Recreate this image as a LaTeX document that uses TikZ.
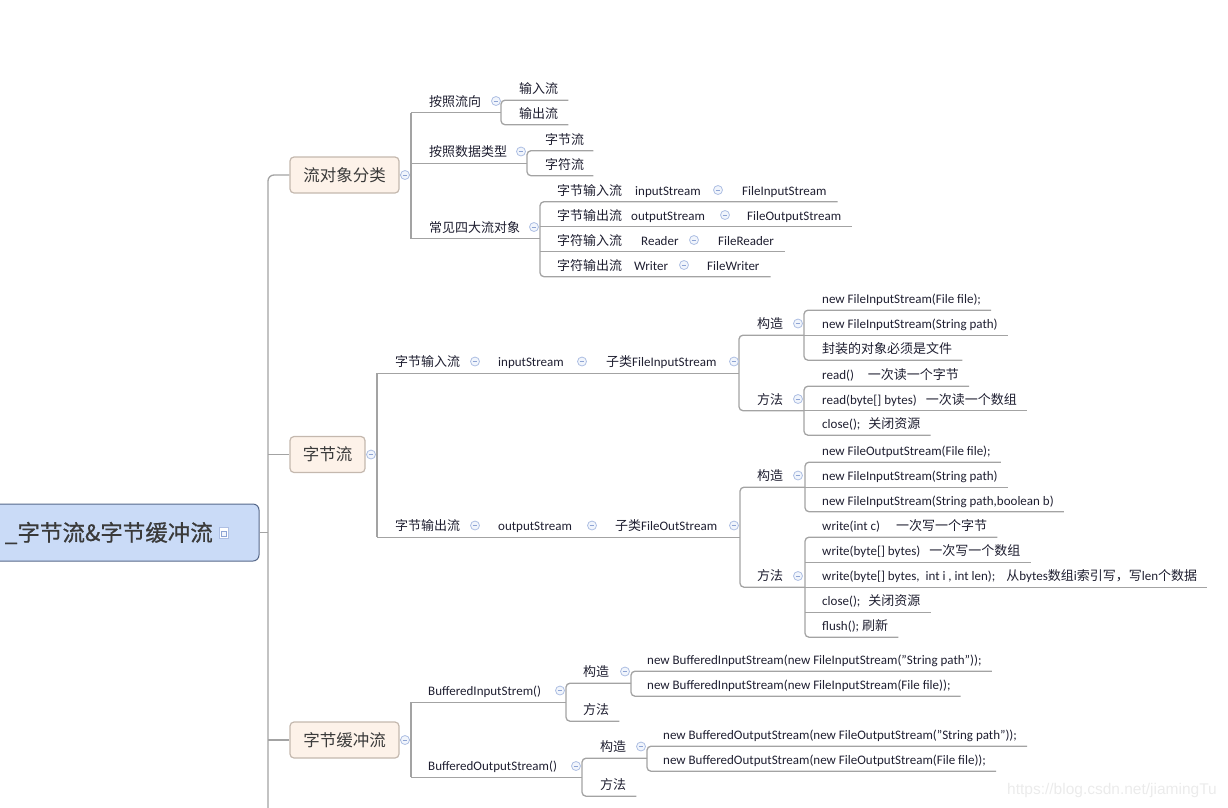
\documentclass[tikz,border=0pt]{standalone}
\usepackage{fontspec}
\setmainfont{Carlito}
\newfontfamily\cjk{Noto Sans CJK SC}
\newfontfamily\cjkroot{Noto Sans CJK SC}[FakeBold=0.6]
\newfontfamily\wmfont{Liberation Sans}
\newcommand\zh[1]{{\cjk #1}}
\definecolor{lc}{HTML}{A3A3A3}
\definecolor{txt}{HTML}{1E1E30}
\definecolor{lonef}{HTML}{FDF2E9}
\definecolor{loned}{HTML}{C4B8AE}
\definecolor{rootf}{HTML}{CADBF7}
\definecolor{rootd}{HTML}{56688A}
\definecolor{rootc}{HTML}{3A3A3A}
\definecolor{cbd}{HTML}{AEBFE3}
\definecolor{cbf}{HTML}{F1F5FC}
\definecolor{cbm}{HTML}{8EA4D4}
\definecolor{wmc}{HTML}{EBEBEB}
\begin{document}
\begin{tikzpicture}[x=1pt,y=-1pt,
  ln/.style={draw=lc, line width=1.3pt},
  br/.style={draw=lc, line width=1.3pt, rounded corners=4pt},
  t/.style={anchor=west, inner sep=0pt, minimum height=23pt, text height=11pt, text depth=1pt, font=\fontsize{13}{15}\selectfont, text=txt},
  lone/.style={draw=loned, fill=lonef, line width=1.2pt, rounded corners=4pt, inner sep=0pt, minimum height=36pt, font=\cjk\fontsize{16.5}{18}\selectfont, text=rootc},
  cb/.style={circle, draw=cbd, fill=cbf, line width=0.8pt, minimum size=9pt, inner sep=0pt,
    path picture={\draw[cbm, line width=0.9pt] ([xshift=-2.4pt]path picture bounding box.center) -- ([xshift=2.4pt]path picture bounding box.center);}}
]
\useasboundingbox (0,0) rectangle (1228,807);
\clip (0,0) rectangle (1228,807);

% ---------- coordinates for trunks / brackets
\coordinate (T) at (268,0);
\coordinate (V1) at (411,0);
\coordinate (k11) at (501,0);
\coordinate (k12) at (527,0);
\coordinate (k13) at (540,0);
\coordinate (V2) at (377,0);
\coordinate (k21) at (739,0);
\coordinate (k22) at (804,0);
\coordinate (k24) at (740,0);
\coordinate (k25) at (805,0);
\coordinate (V3) at (411,0);
\coordinate (k31) at (566,0);
\coordinate (k32) at (631,0);
\coordinate (k33) at (582,0);
\coordinate (k34) at (647,0);

% ---------- root
\node[draw=rootd, fill=rootf, line width=1pt, rounded corners=6pt, minimum width=290pt, minimum height=57pt, inner sep=0pt] (R) at (114,532.5) {};
\node[anchor=east, inner sep=0pt, font=\cjkroot\fontsize{22.5}{24}\selectfont, text=rootc] (RT) at (213,533) {\_字节流\&字节缓冲流};
\node[draw=cbd, fill=white, line width=0.7pt, minimum width=9pt, minimum height=11pt, inner sep=0pt] (RI) at (224,533) {};
\node[draw=cbm, fill=cbf, line width=0.5pt, minimum width=5pt, minimum height=5pt, inner sep=0pt] (RI2) at (224,534) {};

% ---------- level 1 boxes
\node[lone, minimum width=109pt] (A) at (344.5,175) {流对象分类};
\node[lone, minimum width=75pt] (B) at (327.5,454.5) {字节流};
\node[lone, minimum width=109pt] (C) at (344.5,740) {字节缓冲流};

\draw[ln] (R.east) -- (R.east -| T);
\draw[ln, rounded corners=6pt] (268,815) -- (A.west -| T) -- (A.west);
\draw[ln] (B.west -| T) -- (B.west);
\draw[ln] (C.west -| T) -- (C.west);

% ========== section 1
\node[t] (n11) at (429,101) {\zh{按照流向}};
\node[t] (n12) at (429,151.5) {\zh{按照数据类型}};
\node[t] (n13) at (429,227) {\zh{常见四大流对象}};
\draw[ln] (A.east) -- (A.east -| V1);
\draw[ln] (n11.south -| V1) -- (n13.south -| V1);
\draw[ln] (n11.south -| V1) -- (n11.south -| k11);
\draw[ln] (n12.south -| V1) -- (n12.south -| k12);
\draw[ln] (n13.south -| V1) -- (n13.south -| k13);

\node[t] (n111) at (519,88.5) {\zh{输入流}};
\node[t] (n112) at (519,113) {\zh{输出流}};
\draw[br] ([xshift=10pt]n111.south east) -- (n111.south -| k11) -- (n112.south -| k11) -- ([xshift=10pt]n112.south east);

\node[t] (n121) at (545,139) {\zh{字节流}};
\node[t] (n122) at (545,164) {\zh{字符流}};
\draw[br] ([xshift=9pt]n121.south east) -- (n121.south -| k12) -- (n122.south -| k12) -- ([xshift=9pt]n122.south east);

\node[t] (r1a) at (557,190) {\zh{字节输入流}};
\node[t] (r1b) at (635,190) {inputStream};
\node[t] (r1c) at (742,190) {FileInputStream};
\node[t] (r2a) at (557,215) {\zh{字节输出流}};
\node[t] (r2b) at (631,215) {outputStream};
\node[t] (r2c) at (747,215) {FileOutputStream};
\node[t] (r3a) at (557,240) {\zh{字符输入流}};
\node[t] (r3b) at (641,240) {Reader};
\node[t] (r3c) at (718,240) {FileReader};
\node[t] (r4a) at (557,265) {\zh{字符输出流}};
\node[t] (r4b) at (634,265) {Writer};
\node[t] (r4c) at (707,265) {FileWriter};
\draw[br] ([xshift=11pt]r1c.south east) -- (r1a.south -| k13) -- (r4a.south -| k13) -- ([xshift=11pt]r4c.south east);
\draw[ln] (r2a.south -| k13) -- ([xshift=11pt]r2c.south east);
\draw[ln] (r3a.south -| k13) -- ([xshift=11pt]r3c.south east);

\node[cb] (cA) at (405,175) {};
\node[cb] (c11) at (496,101) {};
\node[cb] (c12) at (521,151.5) {};
\node[cb] (c13) at (534,227) {};
\node[cb] (cr1) at (718,190) {};
\node[cb] (cr2) at (725,215) {};
\node[cb] (cr3) at (694,240) {};
\node[cb] (cr4) at (684,265) {};

% ========== section 2
\draw[ln] (B.east) -- (B.east -| V2);
\node[t] (s1a) at (395,361.5) {\zh{字节输入流}};
\node[t] (s1b) at (498,361.5) {inputStream};
\node[t] (s1c) at (606,361.5) {\zh{子类}FileInputStream};
\node[t] (s2a) at (395,525.5) {\zh{字节输出流}};
\node[t] (s2b) at (498,525.5) {outputStream};
\node[t] (s2c) at (615,525.5) {\zh{子类}FileOutStream};
\draw[ln] (s1a.south -| V2) -- (s2a.south -| V2);
\draw[ln] (s1a.south -| V2) -- (s1a.south -| k21);
\draw[ln] (s2a.south -| V2) -- (s2a.south -| k24);

\node[t] (g1) at (757,323.5) {\zh{构造}};
\node[t] (m1) at (757,399) {\zh{方法}};
\draw[br] (g1.south -| k22) -- (g1.south -| k21) -- (m1.south -| k21) -- (m1.south -| k22);

\node[t] (a1) at (822,298.5) {new FileInputStream(File file);};
\node[t] (a2) at (822,323.5) {new FileInputStream(String path)};
\node[t] (a3) at (822,348.5) {\zh{封装的对象必须是文件}};
\draw[br] ([xshift=10pt]a1.south east) -- (a1.south -| k22) -- (a3.south -| k22) -- ([xshift=10pt]a3.south east);
\draw[ln] (a2.south -| k22) -- ([xshift=10pt]a2.south east);

\node[t] (b1) at (822,374.5) {read()\hspace{14pt}\zh{一次读一个字节}};
\node[t] (b2) at (822,399) {read(byte[] bytes)\hspace{9pt}\zh{一次读一个数组}};
\node[t] (b3) at (822,423.5) {close();\hspace{8pt}\zh{关闭资源}};
\draw[br] ([xshift=10pt]b1.south east) -- (b1.south -| k22) -- (b3.south -| k22) -- ([xshift=10pt]b3.south east);
\draw[ln] (b2.south -| k22) -- ([xshift=10pt]b2.south east);

\node[t] (g2) at (757,475.5) {\zh{构造}};
\node[t] (m2) at (757,575.5) {\zh{方法}};
\draw[br] (g2.south -| k25) -- (g2.south -| k24) -- (m2.south -| k24) -- (m2.south -| k25);

\node[t] (c1) at (822,450.5) {new FileOutputStream(File file);};
\node[t] (c2) at (822,475.5) {new FileInputStream(String path)};
\node[t] (c3) at (822,500) {new FileInputStream(String path,boolean b)};
\draw[br] ([xshift=10pt]c1.south east) -- (c1.south -| k25) -- (c3.south -| k25) -- ([xshift=10pt]c3.south east);
\draw[ln] (c2.south -| k25) -- ([xshift=10pt]c2.south east);

\node[t] (d1) at (822,525.5) {write(int c)\hspace{16pt}\zh{一次写一个字节}};
\node[t] (d2) at (822,550.5) {write(byte[] bytes)\hspace{9pt}\zh{一次写一个数组}};
\node[t] (d3) at (822,575.5) {write(byte[] bytes,\ \ int i , int len);\hspace{11pt}\zh{从}bytes\zh{数组}i\zh{索引写，写}len\zh{个数据}};
\node[t] (d4) at (822,600.5) {close();\hspace{8pt}\zh{关闭资源}};
\node[t] (d5) at (822,625.5) {flush(); \zh{刷新}};
\draw[br] ([xshift=10pt]d1.south east) -- (d1.south -| k25) -- (d5.south -| k25) -- ([xshift=10pt]d5.south east);
\draw[ln] (d2.south -| k25) -- ([xshift=10pt]d2.south east);
\draw[ln] (d3.south -| k25) -- ([xshift=10pt]d3.south east);
\draw[ln] (d4.south -| k25) -- ([xshift=10pt]d4.south east);

\node[cb] (cB) at (371,454.5) {};
\node[cb] (cs1) at (475,361.5) {};
\node[cb] (cs2) at (582,361.5) {};
\node[cb] (cs3) at (734,361.5) {};
\node[cb] (cs4) at (475,525.5) {};
\node[cb] (cs5) at (592,525.5) {};
\node[cb] (cs6) at (734,525.5) {};
\node[cb] (cg1) at (798,323.5) {};
\node[cb] (cm1) at (798,399) {};
\node[cb] (cg2) at (798,475.5) {};
\node[cb] (cm2) at (798,576) {};

% ========== section 3
\draw[ln] (C.east) -- (C.east -| V3);
\node[t] (D1) at (428,690.5) {BufferedInputStrem()};
\node[t] (D2) at (428,765.5) {BufferedOutputStream()};
\draw[ln] (D1.south -| V3) -- (D2.south -| V3);
\draw[ln] (D1.south -| V3) -- (D1.south -| k31);
\draw[ln] (D2.south -| V3) -- (D2.south -| k33);

\node[t] (g3) at (583,671.5) {\zh{构造}};
\node[t] (m3) at (583,709.5) {\zh{方法}};
\draw[br] (g3.south -| k32) -- (g3.south -| k31) -- (m3.south -| k31) -- ([xshift=10pt]m3.south east);

\node[t] (f1) at (647,659.5) {new BufferedInputStream(new FileInputStream("String path"));};
\node[t] (f2) at (647,684.5) {new BufferedInputStream(new FileInputStream(File file));};
\draw[br] ([xshift=10pt]f1.south east) -- (f1.south -| k32) -- (f2.south -| k32) -- ([xshift=10pt]f2.south east);

\node[t] (g4) at (600,746.5) {\zh{构造}};
\node[t] (m4) at (600,784.5) {\zh{方法}};
\draw[br] (g4.south -| k34) -- (g4.south -| k33) -- (m4.south -| k33) -- ([xshift=10pt]m4.south east);

\node[t] (h1) at (663,734.5) {new BufferedOutputStream(new FileOutputStream("String path"));};
\node[t] (h2) at (663,759.5) {new BufferedOutputStream(new FileOutputStream(File file));};
\draw[br] ([xshift=10pt]h1.south east) -- (h1.south -| k34) -- (h2.south -| k34) -- ([xshift=10pt]h2.south east);

\node[cb] (cC) at (405,740) {};
\node[cb] (cD1) at (560,690.5) {};
\node[cb] (cD2) at (576,766) {};
\node[cb] (cg3) at (625,671.5) {};
\node[cb] (cg4) at (641,746.5) {};

% watermark
\node[inner sep=0pt, font=\wmfont\fontsize{15.5}{17}\selectfont, text=wmc] (W) at (1112,790) {https://blog.csdn.net/jiamingTu};
\end{tikzpicture}
\end{document}
